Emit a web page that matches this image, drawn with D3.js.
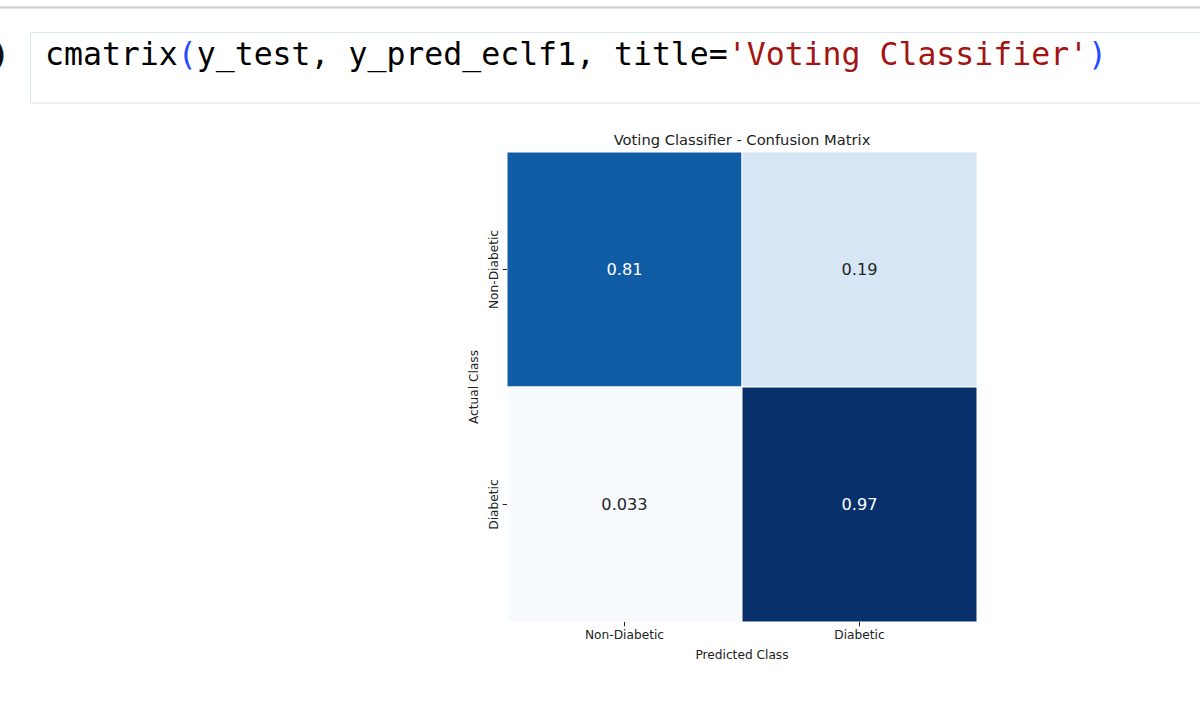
<!DOCTYPE html>
<html>
<head>
<meta charset="utf-8">
<script src="https://cdn.jsdelivr.net/npm/d3@7"></script>
<style>
  body { margin: 0; background: #fff; }
  svg { display: block; }
</style>
</head>
<body>
<div id="chart"></div>
<script>
// chart data
const classLabels = ["Non-Diabetic", "Diabetic"];
const matrixValues = [
  [0.81, 0.19],
  [0.033, 0.97],
];
const chartTitle = "Voting Classifier - Confusion Matrix";
const xLabel = "Predicted Class";
const yLabel = "Actual Class";

// notebook cell code line, split by colour
const codeParts = [
  { text: "cmatrix", color: "#000000" },
  { text: "(", color: "#1f4bff" },
  { text: "y_test, y_pred_eclf1, title=", color: "#000000" },
  { text: "'Voting Classifier'", color: "#a31515" },
  { text: ")", color: "#1f4bff" },
];

// matplotlib "Blues" colour stops
const bluesStops = ["#f7fbff", "#deebf7", "#c6dbef", "#9ecae1", "#6baed6", "#4292c6", "#2171b5", "#08519c", "#08306b"];

const W = 1200, H = 702;
const svg = d3.select("#chart").append("svg").attr("width", W).attr("height", H);

// notebook chrome
svg.append("rect").attr("x", 0).attr("y", 6.5).attr("width", W).attr("height", 2).attr("fill", "#cdcdcd");
svg.append("rect")
  .attr("x", 30.5).attr("y", 32.5)
  .attr("width", W).attr("height", 70.5)
  .attr("fill", "#fff")
  .attr("stroke", "#dbe6f2")
  .attr("stroke-width", 1.2);

// tail of the cell prompt, cut by the screenshot edge
svg.append("text")
  .attr("x", -9).attr("y", 65)
  .style("font-family", "DejaVu Sans Mono")
  .style("font-size", "30px")
  .style("font-weight", "bold")
  .attr("fill", "#111")
  .text(")");

const code = svg.append("text")
  .attr("x", 45).attr("y", 65)
  .style("font-family", "DejaVu Sans Mono")
  .style("font-size", "31.5px")
  .attr("xml:space", "preserve");
code.selectAll("tspan").data(codeParts).enter().append("tspan")
  .attr("fill", (d) => d.color)
  .text((d) => d.text);

// heatmap
const hmLeft = 507, hmTop = 152, hmSize = 470;
const x = d3.scaleBand().domain(classLabels).range([hmLeft, hmLeft + hmSize]);
const y = d3.scaleBand().domain(classLabels).range([hmTop, hmTop + hmSize]);

const flat = [];
matrixValues.forEach((row, i) => row.forEach((v, j) => flat.push({ actual: classLabels[i], pred: classLabels[j], value: v })));

const vExtent = d3.extent(flat, (d) => d.value);
const color = d3.scaleLinear()
  .domain(bluesStops.map((_, i) => vExtent[0] + (i / (bluesStops.length - 1)) * (vExtent[1] - vExtent[0])))
  .range(bluesStops)
  .interpolate(d3.interpolateRgb);

svg.append("g").selectAll("rect").data(flat).enter().append("rect")
  .attr("x", (d) => x(d.pred))
  .attr("y", (d) => y(d.actual))
  .attr("width", x.bandwidth())
  .attr("height", y.bandwidth())
  .attr("fill", (d) => color(d.value))
  .attr("stroke", "#fff")
  .attr("stroke-width", 1);

const fmt = d3.format(".2");
svg.append("g").selectAll("text").data(flat).enter().append("text")
  .attr("x", (d) => x(d.pred) + x.bandwidth() / 2)
  .attr("y", (d) => y(d.actual) + y.bandwidth() / 2)
  .attr("dy", "0.36em")
  .attr("text-anchor", "middle")
  .style("font-family", "DejaVu Sans")
  .style("font-size", "16.2px")
  .attr("fill", (d) => (d3.hsl(color(d.value)).l < 0.5 ? "#ffffff" : "#262626"))
  .text((d) => fmt(d.value));

// axes
const xAxis = svg.append("g")
  .attr("transform", `translate(0,${hmTop + hmSize})`)
  .call(d3.axisBottom(x).tickSize(4.3).tickPadding(4));
xAxis.select(".domain").remove();
xAxis.selectAll("line").attr("stroke", "#222").attr("stroke-width", 1);
xAxis.selectAll("text")
  .style("font-family", "DejaVu Sans")
  .style("font-size", "12.2px")
  .attr("fill", "#222");

const yAxis = svg.append("g")
  .attr("transform", `translate(${hmLeft},0)`)
  .call(d3.axisLeft(y).tickSize(4.3));
yAxis.select(".domain").remove();
yAxis.selectAll("line").attr("stroke", "#222").attr("stroke-width", 1);
yAxis.selectAll("text")
  .attr("x", null).attr("dy", null)
  .attr("text-anchor", "middle")
  .attr("transform", "translate(-9.5,0) rotate(-90)")
  .style("font-family", "DejaVu Sans")
  .style("font-size", "12.2px")
  .attr("fill", "#222");

// title and axis labels
svg.append("text")
  .attr("x", hmLeft + hmSize / 2).attr("y", 145)
  .attr("text-anchor", "middle")
  .style("font-family", "DejaVu Sans")
  .style("font-size", "14.7px")
  .attr("fill", "#222")
  .text(chartTitle);

svg.append("text")
  .attr("x", hmLeft + hmSize / 2).attr("y", 659)
  .attr("text-anchor", "middle")
  .style("font-family", "DejaVu Sans")
  .style("font-size", "12.2px")
  .attr("fill", "#222")
  .text(xLabel);

svg.append("text")
  .attr("transform", `translate(478,${hmTop + hmSize / 2}) rotate(-90)`)
  .attr("text-anchor", "middle")
  .style("font-family", "DejaVu Sans")
  .style("font-size", "12.2px")
  .attr("fill", "#222")
  .text(yLabel);
</script>
</body>
</html>
